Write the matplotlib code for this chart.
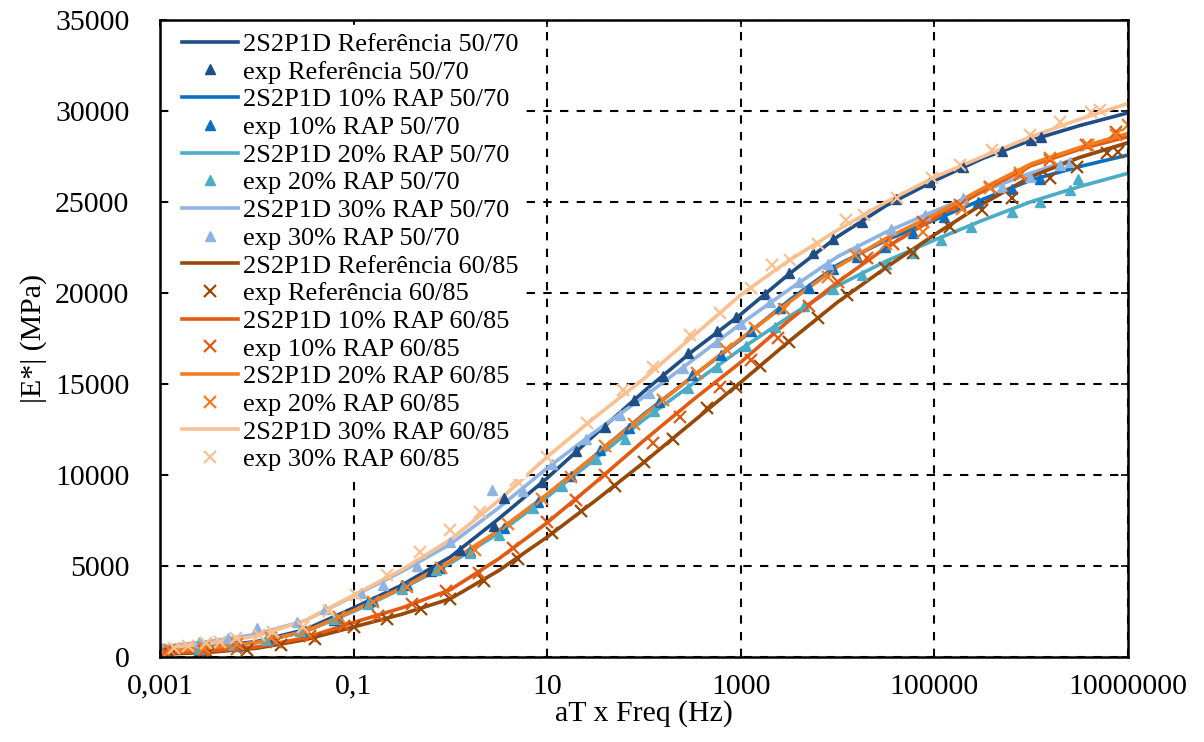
import numpy as np
import matplotlib
matplotlib.use("Agg")
import matplotlib.pyplot as plt
from matplotlib.ticker import FixedLocator, FixedFormatter, NullLocator

# log10 of the reduced frequency used for the 2S2P1D fitted curves
fit_logf = [-3, -2.5, -2, -1.5, -1, -0.5, 0, 0.5, 1, 1.5, 2, 2.5, 3, 3.5, 4, 4.5, 5, 5.5, 6, 6.5, 7]

fit_ref_5070 = [350, 550, 850, 1500, 2700, 3950, 5500, 7600, 9830, 12250, 14600, 16800, 18830, 21050, 23100, 24800, 26170, 27400, 28400, 29200, 29900]
fit_10_5070 = [300, 500, 800, 1400, 2550, 3800, 5200, 6900, 8900, 11100, 13350, 15400, 17450, 19600, 21540, 22900, 24010, 25150, 26210, 26950, 27580]
fit_20_5070 = [300, 500, 800, 1400, 2500, 3750, 5150, 6800, 8800, 10900, 13050, 15000, 16920, 18700, 20400, 21750, 22910, 24000, 25020, 25850, 26580]
fit_30_5070 = [550, 850, 1250, 2000, 3350, 4700, 6200, 8200, 10380, 12400, 14300, 16300, 18310, 20200, 22000, 23350, 24500, 25600, 26600, 27450, 28250]
fit_ref_6085 = [150, 250, 480, 950, 1650, 2350, 3200, 4750, 6590, 8600, 10700, 12900, 15100, 17350, 19500, 21400, 23200, 24900, 26400, 27450, 28260]
fit_10_6085 = [200, 330, 550, 1050, 1900, 2700, 3700, 5400, 7380, 9600, 11900, 14100, 16200, 18500, 20600, 22500, 24100, 25600, 27000, 27900, 28590]
fit_20_6085 = [300, 500, 800, 1400, 2550, 3800, 5250, 6950, 8950, 11100, 13300, 15400, 17500, 19500, 21450, 23000, 24300, 25750, 27100, 28000, 28770]
fit_30_6085 = [450, 750, 1150, 2000, 3400, 4800, 6450, 8600, 11000, 13200, 15300, 17600, 19900, 21800, 23460, 25000, 26360, 27500, 28590, 29550, 30420]

# experimental points: log10(aT x f) and |E*| in MPa
exp_ref_5070_logf = [-2.9, -2.55, -2.2, -1.85, -1.5, -1.2, -0.85, -0.5, -0.2, 0.1, 0.45, 0.55, 0.95, 1.3, 1.6, 1.9, 2.2, 2.45, 2.75, 2.95, 3.25, 3.5, 3.75, 3.95, 4.25, 4.6, 4.95, 5.3, 5.7, 6.0, 6.1]
exp_ref_5070 = [420, 520, 680, 1000, 1450, 2050, 3000, 3950, 4700, 5900, 7200, 8750, 9600, 11300, 12650, 14100, 15450, 16700, 17900, 18700, 19950, 21100, 22200, 22950, 23900, 25150, 26100, 26950, 27800, 28400, 28600]

exp_10_5070_logf = [-2.95, -2.6, -2.2, -1.85, -1.5, -1.15, -0.8, -0.45, -0.1, 0.2, 0.55, 0.9, 1.25, 1.55, 1.85, 2.15, 2.5, 2.8, 3.1, 3.4, 3.7, 3.95, 4.2, 4.49, 4.78, 5.1, 5.45, 5.8, 6.09]
exp_10_5070 = [280, 380, 600, 950, 1450, 2150, 3050, 3950, 4900, 5850, 7100, 8500, 9950, 11350, 12600, 14000, 15500, 16600, 17900, 19200, 20300, 21300, 22000, 22550, 23300, 24200, 25000, 25700, 26240]

exp_20_5070_logf = [-3.0, -2.6, -2.25, -1.9, -1.55, -1.2, -0.85, -0.5, -0.15, 0.2, 0.5, 0.85, 1.15, 1.5, 1.8, 2.1, 2.45, 2.75, 3.05, 3.35, 3.65, 3.95, 4.25, 4.5, 4.78, 5.07, 5.38, 5.8, 6.09, 6.4, 6.48]
exp_20_5070 = [350, 450, 650, 950, 1450, 2100, 2900, 3750, 4800, 5700, 6700, 8200, 9400, 10900, 12000, 13500, 14800, 15950, 17100, 18150, 19300, 20200, 21000, 21600, 22200, 22910, 23640, 24460, 25010, 25660, 26260]

exp_30_5070_logf = [-2.98, -2.6, -2.3, -2.0, -1.59, -1.3, -0.92, -0.7, -0.35, 0.0, 0.43, 0.75, 1.05, 1.4, 1.75, 2.05, 2.4, 2.75, 3.0, 3.3, 3.6, 3.9, 4.2, 4.55, 4.9, 5.3, 5.7, 5.99, 6.3, 6.4]
exp_30_5070 = [480, 800, 1050, 1580, 1940, 2640, 3500, 3960, 5000, 6300, 9180, 9100, 10600, 12000, 13300, 14500, 15900, 17300, 18300, 19500, 20600, 21600, 22500, 23500, 24300, 25200, 25840, 26370, 27030, 27200]

exp_ref_6085_logf = [-2.9, -2.5, -2.1, -1.75, -1.4, -1.0, -0.65, -0.3, 0.0, 0.35, 0.7, 1.05, 1.35, 1.7, 2.0, 2.3, 2.65, 2.95, 3.2, 3.5, 3.8, 4.1, 4.49, 4.78, 5.16, 5.49, 5.8, 6.19, 6.47, 6.78, 6.9]
exp_ref_6085 = [150, 230, 400, 650, 1000, 1650, 2100, 2650, 3200, 4200, 5400, 6800, 8000, 9400, 10700, 12000, 13700, 14850, 16000, 17300, 18600, 19900, 21370, 22200, 23640, 24560, 25200, 26300, 26940, 27670, 27770]

exp_10_6085_logf = [-2.95, -2.55, -2.2, -1.8, -1.45, -1.1, -0.75, -0.4, -0.05, 0.3, 0.65, 1.0, 1.3, 1.6, 2.09, 2.37, 2.79, 3.1, 3.38, 3.7, 4.0, 4.3, 4.57, 4.88, 5.26, 5.57, 5.88, 6.19, 6.57, 6.88]
exp_10_6085 = [250, 320, 450, 800, 1150, 1700, 2250, 2900, 3600, 4600, 6000, 7400, 8600, 10000, 11760, 13200, 14850, 16320, 17530, 19300, 20600, 21900, 22700, 23920, 24840, 25840, 26500, 27300, 28130, 28860]

exp_20_6085_logf = [-2.9, -2.55, -2.2, -1.85, -1.5, -1.15, -0.8, -0.45, -0.1, 0.25, 0.6, 0.95, 1.25, 1.6, 1.9, 2.2, 2.55, 2.85, 3.15, 3.45, 3.9, 4.18, 4.5, 4.88, 5.28, 5.57, 5.88, 6.19, 6.59, 6.88, 7.0]
exp_20_6085 = [400, 500, 700, 1050, 1450, 2200, 3000, 3850, 4900, 5900, 7300, 8700, 9900, 11600, 12800, 14100, 15600, 16900, 18100, 19100, 20890, 22090, 22700, 23370, 24640, 25770, 26590, 27420, 28130, 28680, 29230]

exp_30_6085_logf = [-2.86, -2.71, -2.52, -2.38, -2.21, -1.98, -1.83, -1.52, -1.25, -0.98, -0.65, -0.31, 0.0, 0.31, 0.68, 1.0, 1.41, 1.78, 2.09, 2.48, 2.79, 3.1, 3.32, 3.51, 3.8, 4.09, 4.27, 4.61, 4.97, 5.26, 5.59, 5.99, 6.3, 6.62, 6.71]
exp_30_6085 = [480, 600, 750, 840, 1030, 1210, 1390, 1660, 2500, 3410, 4500, 5790, 6980, 7980, 9730, 11000, 12850, 14670, 15950, 17690, 18880, 20300, 21540, 21800, 22700, 24000, 24290, 25200, 26300, 27030, 27860, 28680, 29400, 29950, 30070]

x_tick_values = [1e-3, 1e-1, 1e1, 1e3, 1e5, 1e7]
x_tick_labels = ["0,001", "0,1", "10", "1000", "100000", "10000000"]
y_tick_values = [0, 5000, 10000, 15000, 20000, 25000, 30000, 35000]

series = [
    ("Referência 50/70", fit_ref_5070, exp_ref_5070_logf, exp_ref_5070, "#1F4E87", "^"),
    ("10% RAP 50/70", fit_10_5070, exp_10_5070_logf, exp_10_5070, "#0A6FC2", "^"),
    ("20% RAP 50/70", fit_20_5070, exp_20_5070_logf, exp_20_5070, "#4BACC6", "^"),
    ("30% RAP 50/70", fit_30_5070, exp_30_5070_logf, exp_30_5070, "#8EB4E3", "^"),
    ("Referência 60/85", fit_ref_6085, exp_ref_6085_logf, exp_ref_6085, "#984807", "x"),
    ("10% RAP 60/85", fit_10_6085, exp_10_6085_logf, exp_10_6085, "#E35B12", "x"),
    ("20% RAP 60/85", fit_20_6085, exp_20_6085_logf, exp_20_6085, "#F47C20", "x"),
    ("30% RAP 60/85", fit_30_6085, exp_30_6085_logf, exp_30_6085, "#FAC090", "x"),
]

plt.rcParams['font.family'] = ['Liberation Serif', 'DejaVu Serif']

fig = plt.figure(figsize=(12.04, 7.42), dpi=100)
ax = fig.add_axes([0.1329, 0.1146, 0.8040, 0.8584])

fit_f = np.power(10.0, fit_logf)
for name, fit, exp_logf, exp_vals, color, marker in series:
    ax.plot(fit_f, fit, color=color, lw=2.6, label="2S2P1D " + name, zorder=3)
    if marker == "^":
        ax.plot(np.power(10.0, exp_logf), exp_vals, ls="none", marker="^", ms=7.5,
                color=color, label="exp " + name, zorder=4)
    else:
        ax.plot(np.power(10.0, exp_logf), exp_vals, ls="none", marker="x", ms=8,
                mew=1.6, color=color, label="exp " + name, zorder=4)

ax.set_xscale("log")
ax.set_xlim(1e-3, 1e7)
ax.set_ylim(0, 35000)
ax.xaxis.set_major_locator(FixedLocator(x_tick_values))
ax.xaxis.set_major_formatter(FixedFormatter(x_tick_labels))
ax.xaxis.set_minor_locator(NullLocator())
ax.set_yticks(y_tick_values)

ax.grid(True, color="black", ls=(0, (4, 4)), lw=1.5)
ax.tick_params(direction="in", length=5, width=1.2, top=True, right=True, labelsize=21.5)
ax.tick_params(axis="y", pad=22)
ax.tick_params(axis="x", pad=12)
for sp in ax.spines.values():
    sp.set_linewidth(1.8)
    sp.set_color("black")
    sp.set_zorder(6)

ax.set_xlabel("aT x Freq (Hz)", fontsize=21.5, labelpad=0)
ax.set_ylabel("|E*| (MPa)", fontsize=21.5, labelpad=6)

# white legend box without border, hides the grid behind it like the original
leg = ax.legend(loc="upper left", fontsize=19, frameon=True, fancybox=False,
                facecolor="white", edgecolor="none", framealpha=1.0,
                labelspacing=0.16, handlelength=2.1, handletextpad=0.2,
                borderpad=0.3, borderaxespad=0.1, bbox_to_anchor=(0.012, 0.997))
leg.set_zorder(5)

fig.savefig("out.png", dpi=100)
